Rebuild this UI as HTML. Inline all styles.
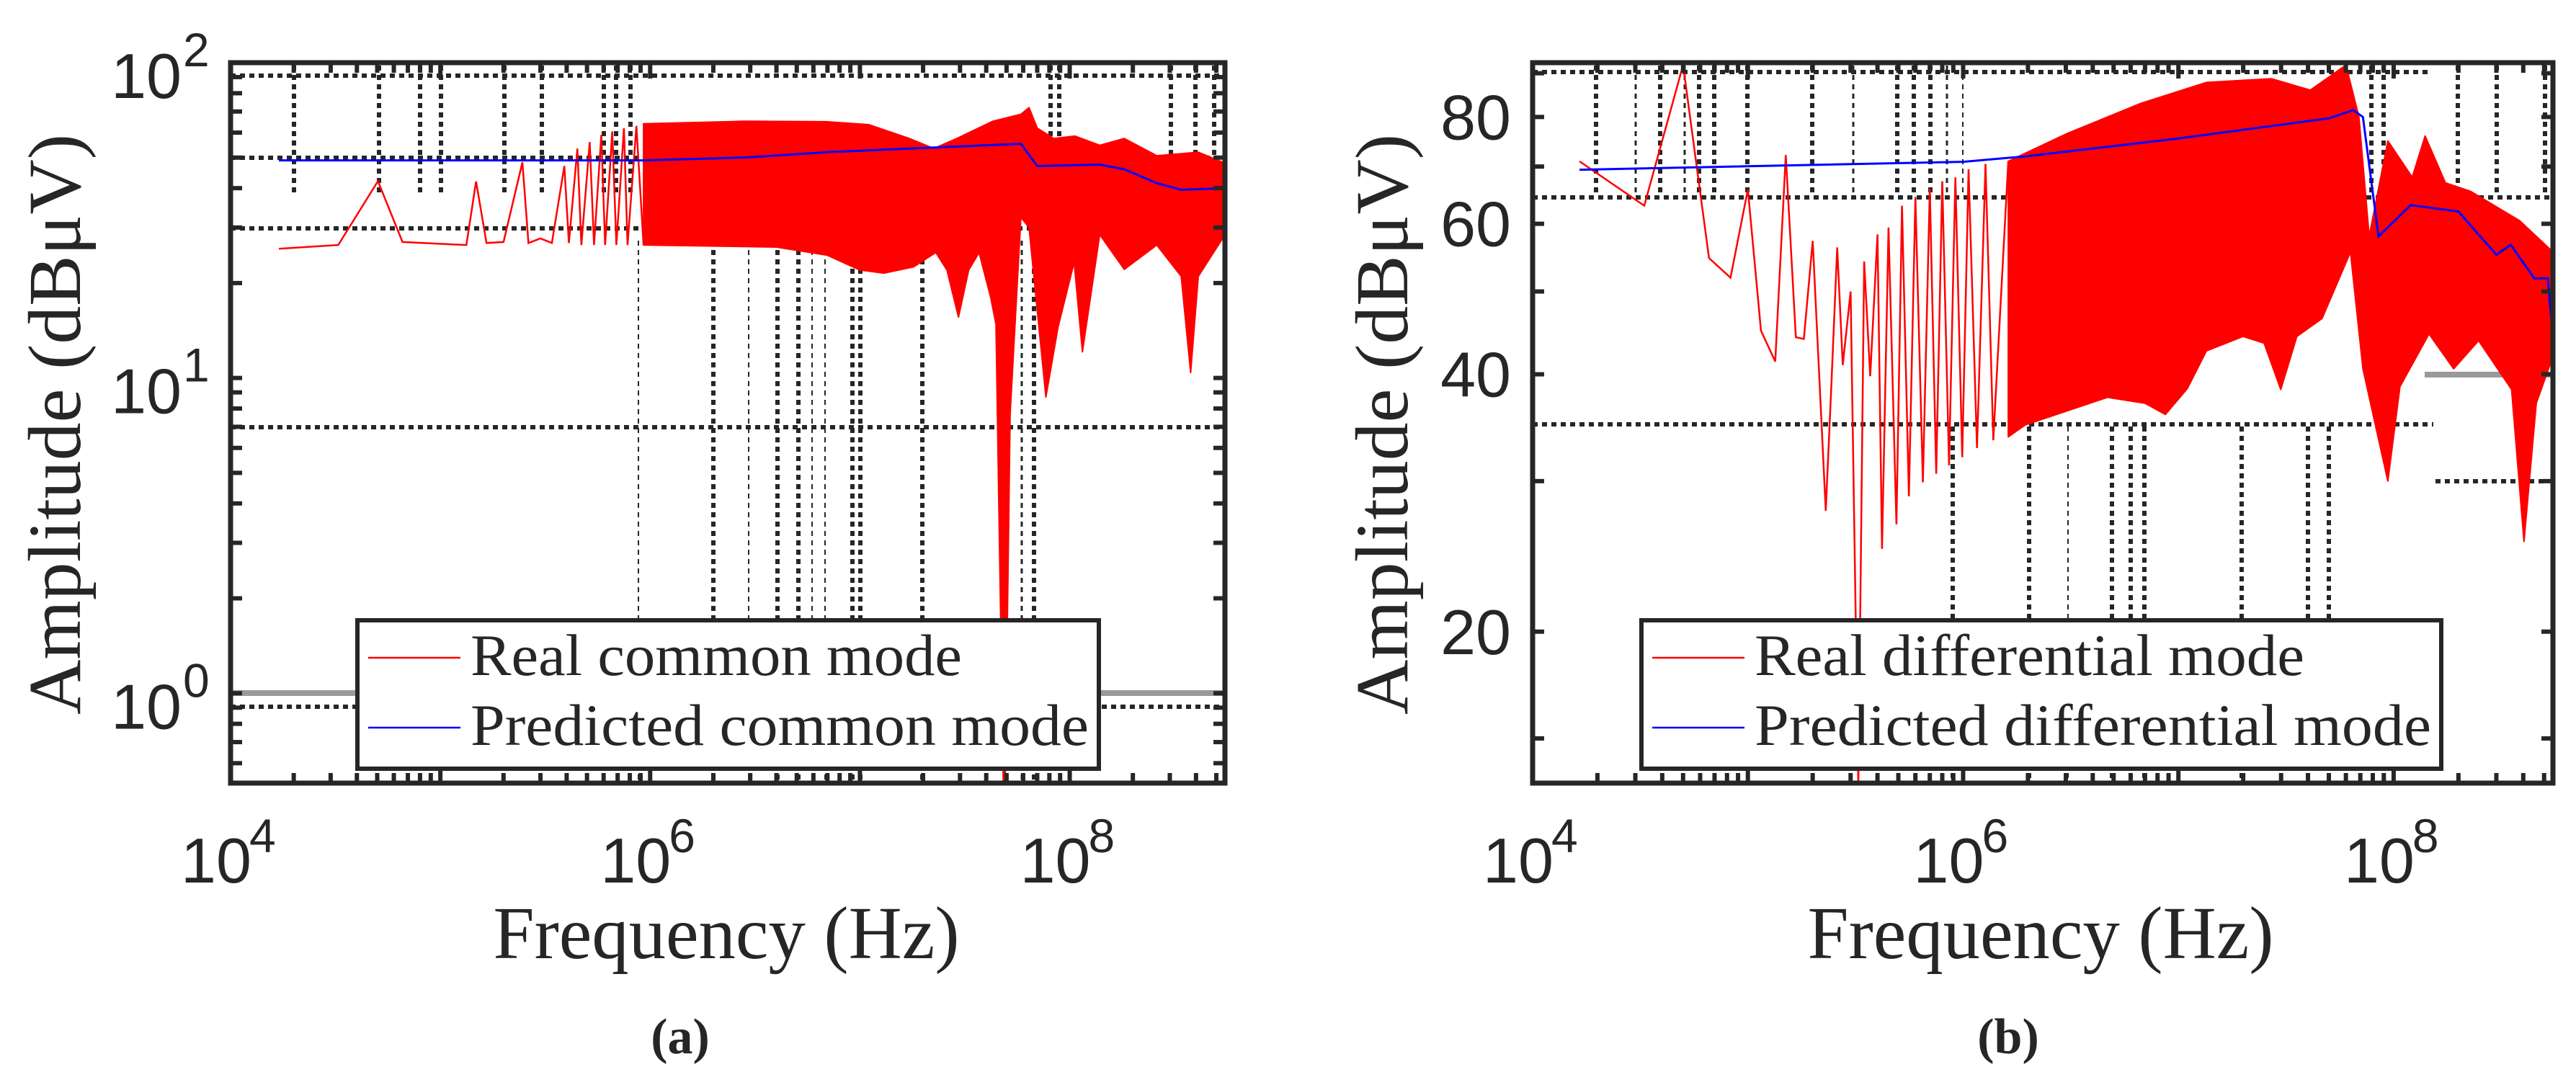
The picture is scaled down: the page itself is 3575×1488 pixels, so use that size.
<!DOCTYPE html>
<html><head><meta charset="utf-8"><style>
html,body{margin:0;padding:0;background:#fff;}
svg{display:block;}
.tk{font-family:"Liberation Sans",sans-serif;fill:#262626;}
.sr{font-family:"Liberation Serif",serif;fill:#262626;}
</style></head><body>
<svg id="fig" width="3575" height="1488" viewBox="0 0 3575 1488" xmlns="http://www.w3.org/2000/svg"></svg>
<script>
// ---- Common mode data (panel a) ----
const cmLowF = [1.7e4,3.26e4,5.04e4,6.6e4,1.33e5,1.48e5,1.66e5,2e5,2.46e5,2.63e5,3e5,3.4e5,3.9e5,4.1e5,4.5e5,4.7e5,5.15e5,5.4e5,5.85e5,6.1e5,6.6e5,6.9e5,7.5e5,7.8e5,8.6e5,9.3e5];
const cmLowV = [25.7,26.4,42.1,27,26.4,42,26.8,27,48.3,26.8,27.7,26.8,47,26.8,53.4,26.4,56,26.4,59,26.4,60.5,26.4,62,26.4,63,26.4];
const cmUpF = [9.3e5,2.8e6,6.9e6,1.1e7,1.72e7,2.25e7,2.9e7,4.3e7,5.85e7,6.4e7,7e7,8.4e7,1.06e8,1.39e8,1.82e8,2.6e8,4.1e8,5.5e8];
const cmUpV = [64,65.2,65,63.6,57.5,53.4,57.5,65.2,68.6,72,62,57.5,58.5,54.7,57.5,50.7,52,48];
const cmLoF = [9.3e5,4e6,7e6,1e7,1.3e7,1.8e7,2.3e7,2.6e7,2.95e7,3.3e7,3.7e7,4.2e7,4.45e7,4.85e7,4.9e7,5.2e7,5.85e7,6.4e7,7e7,7.7e7,8.8e7,1.05e8,1.15e8,1.39e8,1.82e8,2.6e8,3.4e8,3.77e8,4.1e8,5.5e8];
const cmLoV = [26.4,26,24.5,22,21.5,22.5,25,22,15.6,22,25,18,14.8,0.4,0.4,7.7,32.3,30,16.4,8.7,14.5,23.3,12.1,28.5,22.1,26.4,21,10.4,21,28.5];
const cmPredF = [1.7e4,9.3e5,2.8e6,6.9e6,1.72e7,5.85e7,7e7,1.39e8,1.82e8,2.6e8,3.4e8,5.5e8];
const cmPredV = [49,49,50,52,53.4,55.3,47,47.5,45.9,41.5,39.5,40];
const cmYTicks = [1,10,100];
const cmYLabels = ["0","1","2"];
// ---- Differential mode data (panel b) ----
const dmLowF = [1.65e4,3.3e4,5e4,6.6e4,8.3e4,1e5,1.15e5,1.34e5,1.5e5,1.67e5,1.82e5,2e5,2.3e5,2.44e5,2.6e5,2.76e5,3e5,3.26e5,3.47e5,3.7e5,4e5,4.2e5,4.5e5,4.9e5,5.2e5,5.6e5,6e5,6.5e5,7e5,7.5e5,8e5,8.6e5,9.2e5,9.9e5,1.06e6,1.16e6,1.27e6,1.38e6,1.62e6];
const dmLowV = [71,63,92,54.7,51.9,65.8,45,41.4,72.2,44.2,44,57.3,27.7,38.7,56.3,41,50,13.2,54.2,39.8,58.3,25,59.4,26.7,63,28.8,64.5,29.9,65.9,30.6,67.3,31.3,68,32,69.5,32.8,70.5,33.5,71];
const dmUpF = [1.62e6,3e6,6.7e6,1.35e7,2.7e7,4.1e7,5.3e7,6e7,6.9e7,7.7e7,9.4e7,1.22e8,1.4e8,1.74e8,2.27e8,3.85e8,5.5e8];
const dmUpV = [71,76.4,83,87.8,88.7,86,90,92,80,58,75,68,76,67,65.5,60.5,55.6];
const dmLoF = [1.62e6,1.94e6,4.68e6,7e6,8.7e6,1.1e7,1.35e7,2e7,2.5e7,2.99e7,3.55e7,4.65e7,6.3e7,7.2e7,9.4e7,1.07e8,1.46e8,1.9e8,2.48e8,3.53e8,4.03e8,4.6e8,5.5e8];
const dmLoV = [33.8,34.9,37.6,37,35.9,38.5,42.6,44.3,43.5,38.4,44.3,46.5,55.6,40.6,30,38.7,44.6,40.6,43.8,38.4,25.5,37,42];
const dmPredF = [1.65e4,1e6,2e6,1e7,5e7,6.5e7,7.2e7,8.5e7,1.2e8,2e8,3e8,3.5e8,4.5e8,5.2e8,5.5e8];
const dmPredV = [69.4,70.9,72,75.5,79.7,81.5,80,58,63.1,62,55.2,56.7,51.8,51.8,44];
const dmYTicks = [20,40,60,80];
const dmYMinor = [15,30,50,70,90];
const xTickExp = [4,6,8];

const NS = "http://www.w3.org/2000/svg";
const svg = document.getElementById('fig');
function mk(tag, attrs, parent){
  const e = document.createElementNS(NS, tag);
  for (const k in attrs) e.setAttribute(k, attrs[k]);
  (parent||svg).appendChild(e);
  return e;
}
function panel(o){
  const g = mk('g', {});
  
  
  const X = f => o.x0 + (Math.log10(f) - o.lx0) / (o.lx1 - o.lx0) * (o.x1 - o.x0);
  const Y = v => o.y1 - (Math.log10(v) - o.ly0) / (o.ly1 - o.ly0) * (o.y1 - o.y0);
  const cid = 'clip-' + o.name;
  const defs = mk('defs', {}, g);
  const cp = mk('clipPath', {id: cid}, defs);
  mk('rect', {x:o.x0, y:o.y0, width:o.x1-o.x0, height:o.y1-o.y0}, cp);
  const plot = mk('g', {'clip-path': 'url(#'+cid+')'}, g);
  o.hlines.forEach(h => {
    const l = mk('line', {x1:h[1], x2:h[2], y1:h[0], y2:h[0], stroke:h[3]||'#262626', 'stroke-width':h[4]||6, 'stroke-dasharray':h[5]||'7,6'}, plot);
    
    
  });
  o.vlines.forEach(v => {
    const l = mk('line', {x1:v[0], x2:v[0], y1:v[1], y2:v[2], stroke:'#262626', 'stroke-width':v[3]||6, 'stroke-dasharray':'7,6'}, plot);
    
    
  });
  let pts = [];
  o.upF.forEach((f,i) => pts.push(X(f).toFixed(1)+','+Y(o.upV[i]).toFixed(1)));
  for (let i=o.loF.length-1;i>=0;i--) pts.push(X(o.loF[i]).toFixed(1)+','+Y(o.loV[i]).toFixed(1));
  const env = mk('polygon', {points: pts.join(' '), fill:'#ff0000', stroke:'#ff0000', 'stroke-width':2, 'stroke-linejoin':'round'}, plot);
  
  
  const low = mk('polyline', {points: o.lowF.map((f,i)=>X(f).toFixed(1)+','+Y(o.lowV[i]).toFixed(1)).join(' '), fill:'none', stroke:'#ff0000', 'stroke-width':2.5}, plot);
  
  
  const pred = mk('polyline', {points: o.pF.map((f,i)=>X(f).toFixed(1)+','+Y(o.pV[i]).toFixed(1)).join(' '), fill:'none', stroke:'#0000ff', 'stroke-width':3}, plot);
  
  
  const tg = mk('g', {stroke:'#262626', 'stroke-width':6}, g);
  for (let e=o.lx0; e<=Math.floor(o.lx1); e++){
    for (let m=1;m<=9;m++){
      const f = m*Math.pow(10,e);
      if (Math.log10(f) > o.lx1 || Math.log10(f) < o.lx0) continue;
      const xx = X(f), len = m===1?22:14;
      mk('line', {x1:xx,x2:xx,y1:o.y1,y2:o.y1-len}, tg);
      mk('line', {x1:xx,x2:xx,y1:o.y0,y2:o.y0+len}, tg);
    }
  }
  o.yTickVals.forEach(v => {
    const yy = Y(v);
    mk('line', {x1:o.x0,x2:o.x0+16,y1:yy,y2:yy}, tg);
    mk('line', {x1:o.x1,x2:o.x1-16,y1:yy,y2:yy}, tg);
  });
  const box = mk('rect', {x:o.x0, y:o.y0, width:o.x1-o.x0, height:o.y1-o.y0, fill:'none', stroke:'#262626', 'stroke-width':7}, g);
  
  
  xTickExp.forEach(e => {
    const xx = X(Math.pow(10,e));
    const t = mk('text', {x:xx-20, y:1225, 'font-size':88, 'text-anchor':'middle', class:'tk'}, g);
    t.textContent = '10';
    
    
    const s = mk('text', {x:xx+26, y:1183, 'font-size':66, class:'tk'}, g);
    s.textContent = String(e);
  });
  o.yLabels(g, Y);
  const xl = mk('text', {x:o.xlab, y:1330, 'font-size':104, 'text-anchor':'middle', class:'sr', textLength:647, lengthAdjust:'spacingAndGlyphs'}, g);
  xl.textContent = 'Frequency (Hz)';
  
  
  const yl = mk('text', {x:0, y:0, 'font-size':104, 'text-anchor':'middle', class:'sr', textLength:806, lengthAdjust:'spacingAndGlyphs', transform:'translate('+(o.ylab+36)+',589) rotate(-90)'}, g);
  yl.textContent = 'Amplitude (dBμV)';
  
  
  const lg = mk('g', {}, g);
  
  
  mk('rect', {x:o.lg[0], y:861, width:o.lg[1]-o.lg[0], height:206, fill:'#fff', stroke:'#262626', 'stroke-width':6}, lg);
  mk('line', {x1:o.lg[0]+15, x2:o.lg[0]+143, y1:913, y2:913, stroke:'#ff0000', 'stroke-width':2.5}, lg);
  mk('line', {x1:o.lg[0]+15, x2:o.lg[0]+143, y1:1010, y2:1010, stroke:'#0000ff', 'stroke-width':2.5}, lg);
  const t1 = mk('text', {x:o.lg[0]+157, y:937, 'font-size':82, class:'sr', fill:'#000', textLength:o.lw[0], lengthAdjust:'spacingAndGlyphs'}, lg);
  t1.textContent = o.leg[0];
  
  
  const t2 = mk('text', {x:o.lg[0]+157, y:1034, 'font-size':82, class:'sr', fill:'#000', textLength:o.lw[1], lengthAdjust:'spacingAndGlyphs'}, lg);
  t2.textContent = o.leg[1];
  
  
  const cap = mk('text', {x:o.cap, y:1462, 'font-size':70, 'text-anchor':'middle', class:'sr', 'font-weight':'bold'}, g);
  cap.textContent = o.capText;
  
  
}

const cmMinor = [];
for (let e=-1;e<=2;e++) for (let m=1;m<=9;m++){ const v=m*Math.pow(10,e); if (v>=0.52 && v<=100) cmMinor.push(v); }

panel({
  name:'common-mode-chart', x0:320, x1:1700, y0:87, y1:1087, lx0:4, lx1:8.74, ly0:-0.285, ly1:2,
  lowF:cmLowF, lowV:cmLowV, upF:cmUpF, upV:cmUpV, loF:cmLoF, loV:cmLoV, pF:cmPredF, pV:cmPredV,
  yTickVals: cmMinor,
  yLabels: (g, Y) => cmYTicks.forEach((v,i) => {
    const yy = Y(v);
    const t = mk('text', {x:252, y:yy+49, 'font-size':88, 'text-anchor':'end', class:'tk'}, g);
    t.textContent = '10';
    
    
    const s = mk('text', {x:254, y:yy+5, 'font-size':66, class:'tk'}, g);
    s.textContent = cmYLabels[i];
  }),
  hlines: [[105,320,1700],[219,320,1700],[317,320,1700],[593,320,1700],[981,320,1700],[962,320,1700,'#999',8,'none']],
  vlines: [[408,91,267],[526,91,267],[583,91,267],[612,91,267],[700,91,267],[752,91,267],[838,91,267],[855,91,267],[875,91,267],[1458,91,267],[1470,91,267],[1625,91,267],[1659,91,267],[1685,91,267],
           [886,334,1087,2],[990,334,1087],[1039,334,1087,2],[1079,334,1087],[1108,334,1087],[1127,334,1087,2],[1145,334,1087,2],[1183,334,1087],[1194,334,1087],[1280,334,1087],[1418,334,1087,3],[1435,334,1087]],
  xlab:1008, ylab:75, lg:[496,1525], lw:[682,858], leg:['Real common mode','Predicted common mode'], cap:944, capText:'(a)'
});

panel({
  name:'differential-mode-chart', x0:2127, x1:3543, y0:87, y1:1087, lx0:4, lx1:8.74, ly0:Math.log10(13.3), ly1:Math.log10(92.6),
  lowF:dmLowF, lowV:dmLowV, upF:dmUpF, upV:dmUpV, loF:dmLoF, loV:dmLoV, pF:dmPredF, pV:dmPredV,
  yTickVals: dmYTicks.concat(dmYMinor),
  yLabels: (g, Y) => dmYTicks.forEach(v => {
    const t = mk('text', {x:2097, y:Y(v)+31, 'font-size':88, 'text-anchor':'end', class:'tk'}, g);
    t.textContent = String(v);
    
    
  }),
  hlines: [[100,2127,3371],[274,2127,3543],[589,2127,3377],[668,3380,3537],[520,3365,3543,'#999',8,'none']],
  vlines: [[2215,91,272],[2270,91,272,3],[2304,91,272],[2338,91,272,3],[2358,91,272],[2379,91,272],[2425,91,272],[2515,91,272],[2572,91,272,3],[2633,91,272],[2656,91,272],[2679,91,272],[2702,91,272,3],[2724,91,272,2],[3291,91,272],[3308,91,272],[3411,91,272],[3465,91,272],[3532,91,272],
           [2710,592,1087],[2816,592,1087],[2870,592,1087,2],[2931,592,1087],[2957,592,1087],[2976,592,1087],[3111,592,1087],[3203,592,1087],[3232,592,1087]],
  xlab:2832, ylab:1917, lg:[2278,3388], lw:[763,939], leg:['Real differential mode','Predicted differential mode'], cap:2787, capText:'(b)'
});
</script>
</body></html>
